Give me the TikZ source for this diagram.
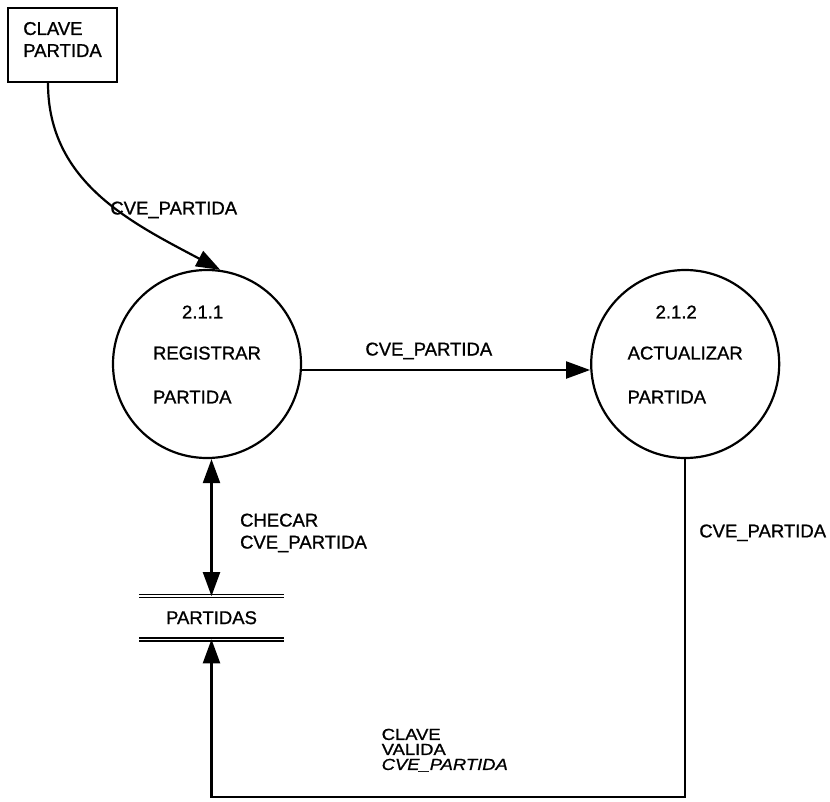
\documentclass[tikz,border=0pt]{standalone}
\usepackage{fontspec}
\setmainfont{Liberation Sans}[FakeBold=1]
\newfontfamily\widesans{Liberation Sans}[FakeBold=1,FakeStretch=1.15]
\usetikzlibrary{arrows.meta,positioning}

\begin{document}
\begin{tikzpicture}[x=1pt,y=-1pt,font=\fontsize{18.5}{22}\selectfont,
 >={Triangle[length=24pt,width=17pt]},line width=2.2pt,
 ent/.style={draw,minimum width=109pt,minimum height=74pt,inner sep=0pt,align=left},
 proc/.style={draw,circle,minimum size=188pt,inner sep=0pt,align=left},
 store/.style={minimum width=143pt,minimum height=41pt,inner sep=0pt},
 lbl/.style={inner sep=0pt,text height=13.3pt,text depth=0pt},
 mlbl/.style={inner sep=0pt,align=left}]
\useasboundingbox (0,0) rectangle (830,801);
\node[ent] (clave) at (62.5,45) {CLAVE\\PARTIDA\\[-11pt]\mbox{}};
\node[proc] (reg) at (207,364) {\hspace*{29pt}2.1.1\\[19pt]REGISTRAR\\[22pt]PARTIDA\\[-3pt]\mbox{}};
\node[proc,right=288pt of reg] (act) {\hspace*{28pt}2.1.2\\[19pt]ACTUALIZAR\\[22pt]PARTIDA\\[-3pt]\mbox{}};
\node[store,below=137pt of reg,xshift=4.5pt] (part) {PARTIDAS};
\draw[double,double distance=1.5pt,line width=1.5pt] (part.north west) -- (part.north east) (part.south west) -- (part.south east);
\coordinate (bot) at (0,797);
\draw[->] ([xshift=-14.5pt]clave.south) to[out=-90,in=152] node[lbl,pos=0.57,anchor=west,xshift=-6pt]{CVE\_PARTIDA} (reg.82);
\draw[->] ([yshift=-6pt]reg.east) -- node[lbl,pos=0.44,above=13.4pt]{CVE\_PARTIDA} ([yshift=-6pt]act.west);
\draw[<->] (reg.south -| part.north) -- node[mlbl,pos=0.39,anchor=north west,xshift=27.5pt]{CHECAR\\CVE\_PARTIDA} (part.north);
\draw[->] (act.south) -- node[lbl,pos=0.212,right=13pt]{CVE\_PARTIDA} (act.south |- bot)
 -- node[mlbl,pos=0.643,anchor=south west,yshift=24pt,font=\widesans\fontsize{16}{15}\selectfont]{CLAVE\\VALIDA\\\textit{CVE\_PARTIDA}} (part.south |- bot) -- (part.south);
\end{tikzpicture}
\end{document}
